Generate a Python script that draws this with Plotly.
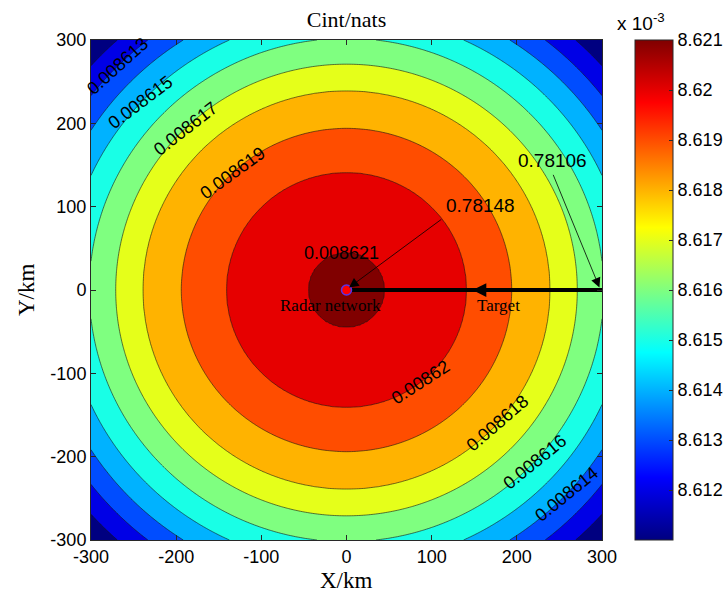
import numpy as np
import plotly.graph_objects as go

# ---- data ----
# radial profile of Cint (nats) versus distance from the radar network (km)
radius_km = [0, 45, 141, 194, 239, 271, 302, 330, 356, 380, 403, 425]
cint_nats = [0.0086211, 0.008621, 0.008620, 0.008619, 0.008618, 0.008617,
             0.008616, 0.008615, 0.008614, 0.008613, 0.008612, 0.008611]

# contour levels (nats)
level_start = 0.008612
level_end = 0.008621
level_step = 0.000001

# inline contour labels: level, polar angle (deg) where label sits, text rotation
label_levels = [0.008613, 0.008615, 0.008617, 0.008619, 0.008621,
                0.008620, 0.008618, 0.008616, 0.008614]
label_polar_deg = [135, 137, 134.4, 133.6, 97.5, -51.7, -42, -43, -43.4]
label_rotation = [-42, -37, -38, -36, 0, -33, -41, -39, -39]

# colorbar ticks (x 10^-3)
cbar_ticks = [8.612, 8.613, 8.614, 8.615, 8.616, 8.617, 8.618, 8.619, 8.620, 8.621]
cbar_ticktext = ["8.612", "8.613", "8.614", "8.615", "8.616", "8.617", "8.618", "8.619", "8.62", "8.621"]
cbar_min, cbar_max = 8.611, 8.621

axis_ticks = [-300, -200, -100, 0, 100, 200, 300]
axis_ticktext = ["-300", "-200", "-100", "0", "100", "200", "300"]

radar_xy = (0, 0)
target_xy = (300, 0)
radar_value = "0.78148"
target_value = "0.78106"

# ---- build grid ----
grid = np.linspace(-300, 300, 301)
X, Y = np.meshgrid(grid, grid)
R = np.hypot(X, Y)
Z = np.interp(R, radius_km, cint_nats) * 1e3

jet = [[0.0, "rgb(0,0,128)"], [0.125, "rgb(0,0,255)"], [0.375, "rgb(0,255,255)"],
       [0.625, "rgb(255,255,0)"], [0.875, "rgb(255,0,0)"], [1.0, "rgb(128,0,0)"]]

SANS = "Liberation Sans, Arial, sans-serif"
SERIF = "Liberation Serif, Times New Roman, serif"

fig = go.Figure()
fig.add_trace(go.Contour(
    x=grid, y=grid, z=Z,
    autocontour=False,
    contours=dict(start=level_start * 1e3, end=level_end * 1e3, size=level_step * 1e3,
                  coloring="fill", showlines=True),
    line=dict(color="rgb(20,20,20)", width=0.6),
    colorscale=jet, showscale=False, hoverinfo="skip",
))

# colorbar carrier (continuous jet)
fig.add_trace(go.Scatter(
    x=[radar_xy[0]], y=[radar_xy[1]], mode="markers",
    marker=dict(size=1, opacity=0, color=[cbar_min], cmin=cbar_min, cmax=cbar_max,
                colorscale=jet, showscale=True,
                colorbar=dict(x=(635 - 91) / 511, xanchor="left", xpad=0, ypad=0,
                              y=0.5, yanchor="middle", len=1, lenmode="fraction",
                              thickness=38, thicknessmode="pixels",
                              outlinewidth=1, outlinecolor="rgb(40,40,40)",
                              tickvals=cbar_ticks, ticktext=cbar_ticktext,
                              ticks="inside", ticklen=4, tickcolor="rgb(40,40,40)",
                              tickfont=dict(family=SANS, size=18, color="black"))),
    showlegend=False, hoverinfo="skip"))

# thick target line
fig.add_trace(go.Scatter(
    x=[target_xy[0], radar_xy[0] + 4], y=[target_xy[1], radar_xy[1]], mode="lines",
    line=dict(color="black", width=4), showlegend=False, hoverinfo="skip"))

# radar network marker
fig.add_trace(go.Scatter(
    x=[radar_xy[0]], y=[radar_xy[1]], mode="markers",
    marker=dict(size=10, color="rgb(255,0,0)", line=dict(color="rgb(90,50,230)", width=1.5)),
    showlegend=False, hoverinfo="skip"))

annotations = []
# contour labels
rev_c = cint_nats[::-1]
rev_r = radius_km[::-1]
for lev, ang, rot in zip(label_levels, label_polar_deg, label_rotation):
    r = float(np.interp(lev, rev_c, rev_r))
    annotations.append(dict(
        x=r * np.cos(np.radians(ang)), y=r * np.sin(np.radians(ang)), xref="x", yref="y",
        text=f"{lev:g}", showarrow=False, textangle=rot,
        font=dict(family=SANS, size=18, color="black")))

# arrow head on the target line
mid = (radar_xy[0] + target_xy[0]) / 2
annotations.append(dict(x=mid - 2, y=0, ax=mid + 20, ay=0, xref="x", yref="y", axref="x", ayref="y",
                        text="", showarrow=True, arrowhead=2, arrowsize=1.1, arrowwidth=2.5,
                        arrowcolor="black"))
# value arrows
annotations.append(dict(x=radar_xy[0] + 3, y=radar_xy[1] + 3, ax=113, ay=86, xref="x", yref="y",
                        axref="x", ayref="y", text="", showarrow=True, arrowhead=2,
                        arrowsize=2.4, arrowwidth=0.8, arrowcolor="black"))
annotations.append(dict(x=target_xy[0] - 3, y=target_xy[1] + 3, ax=242, ay=140, xref="x", yref="y",
                        axref="x", ayref="y", text="", showarrow=True, arrowhead=2,
                        arrowsize=2.4, arrowwidth=0.8, arrowcolor="black"))
annotations.append(dict(x=157, y=101, xref="x", yref="y", text=radar_value, showarrow=False,
                        font=dict(family=SANS, size=19, color="black")))
annotations.append(dict(x=242, y=155, xref="x", yref="y", text=target_value, showarrow=False,
                        font=dict(family=SANS, size=19, color="black")))
# text labels
annotations.append(dict(x=-19, y=-19, xref="x", yref="y", text="Radar network", showarrow=False,
                        font=dict(family=SERIF, size=17, color="black")))
annotations.append(dict(x=178, y=-19, xref="x", yref="y", text="Target", showarrow=False,
                        font=dict(family=SERIF, size=17, color="black")))
# axis titles and colorbar exponent
annotations.append(dict(x=0.5, y=-0.08, xref="paper", yref="paper", text="X/km", showarrow=False,
                        yanchor="middle", font=dict(family=SERIF, size=23, color="black")))
annotations.append(dict(x=(26 - 91) / 511, y=0.5, xref="paper", yref="paper", text="Y/km",
                        showarrow=False, textangle=-90, xanchor="center",
                        font=dict(family=SERIF, size=23, color="black")))
annotations.append(dict(x=(615 - 91) / 511, y=(540 - 22) / 500, xref="paper", yref="paper",
                        text="x 10<sup>-3</sup>", showarrow=False, xanchor="left", yanchor="middle",
                        font=dict(family=SANS, size=19, color="black")))

axis_common = dict(range=[-300, 300], tickvals=axis_ticks, ticktext=axis_ticktext,
                   ticks="inside", ticklen=5,
                   tickcolor="rgb(40,40,40)", showline=True, linecolor="rgb(40,40,40)",
                   linewidth=1, mirror="ticks", showgrid=False, zeroline=False,
                   automargin=False,
                   tickfont=dict(family=SANS, size=18, color="black"))

fig.update_layout(
    width=728, height=598,
    margin=dict(l=91, r=126, t=40, b=58, autoexpand=False),
    paper_bgcolor="white", plot_bgcolor="white",
    title=dict(text="Cint/nats", x=0.5, xref="paper", xanchor="center",
               y=1 - 19 / 598, yref="container", yanchor="middle",
               font=dict(family=SERIF, size=22, color="black")),
    xaxis=axis_common, yaxis=axis_common,
    annotations=annotations, showlegend=False,
)

fig.write_html("out.html", config={"displayModeBar": False},
               post_script="document.body.style.margin='0';")
